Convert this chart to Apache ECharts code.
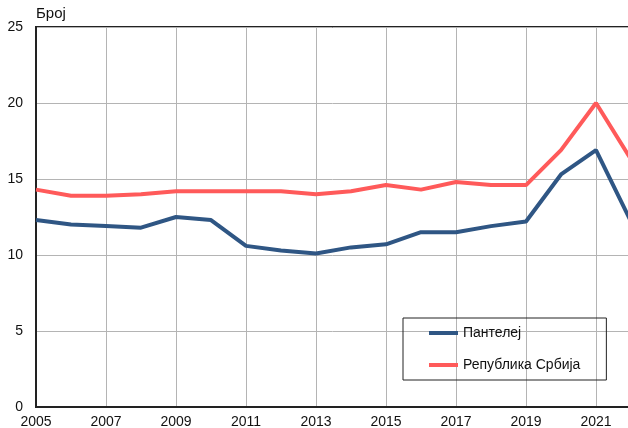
<!DOCTYPE html>
<html>
<head>
<meta charset="utf-8">
<script src="https://cdn.jsdelivr.net/npm/echarts@6/dist/echarts.min.js"></script>
<style>
  html, body { margin: 0; padding: 0; background: #fff; }
  #chart { width: 628px; height: 428px; }
</style>
</head>
<body>
<div id="chart"></div>
<script>
// podaci
var years = ['2005','2006','2007','2008','2009','2010','2011','2012','2013','2014','2015','2016','2017','2018','2019','2020','2021','2022'];
var pantelej = [12.3, 12.0, 11.9, 11.8, 12.5, 12.3, 10.6, 10.3, 10.1, 10.5, 10.7, 11.5, 11.5, 11.9, 12.2, 15.3, 16.9, 12.2];
var srbija = [14.3, 13.9, 13.9, 14.0, 14.2, 14.2, 14.2, 14.2, 14.0, 14.2, 14.6, 14.3, 14.8, 14.6, 14.6, 16.9, 20.0, 16.3];
var seriesNames = ['Пантелеј', 'Република Србија'];
var yTicks = [0, 5, 10, 15, 20, 25];

var font = 'Liberation Sans, Arial, sans-serif';
var chart = echarts.init(document.getElementById('chart'));

chart.setOption({
	animation: false,
	grid: {
		left: 36, right: -3, top: 27, bottom: 21,
		outerBoundsMode: 'none',
		show: true, borderColor: '#222', borderWidth: 2
	},
	legend: {
		orient: 'vertical',
		left: 403, top: 318,
		padding: [8, 26, 8, 26],
		itemGap: 18,
		itemWidth: 29, itemHeight: 4,
		icon: 'rect',
		borderColor: '#222', borderWidth: 1,
		textStyle: { fontFamily: font, fontSize: 14, color: '#111' },
		data: seriesNames
	},
	xAxis: {
		type: 'category',
		data: years,
		boundaryGap: false,
		axisLine: { lineStyle: { color: '#222', width: 2 } },
		axisTick: { show: false },
		axisLabel: { interval: 1, margin: 8, color: '#111', fontFamily: font, fontSize: 14 },
		splitLine: { show: true, interval: 1, lineStyle: { color: '#b4b4b4', width: 1 } }
	},
	yAxis: {
		type: 'value',
		min: yTicks[0], max: yTicks[yTicks.length - 1], interval: 5,
		name: 'Број',
		nameLocation: 'end',
		nameGap: 6,
		nameTextStyle: { align: 'left', fontFamily: font, fontSize: 15, color: '#111' },
		axisLine: { show: true, lineStyle: { color: '#222', width: 2 } },
		axisTick: { show: false },
		axisLabel: { margin: 13, color: '#111', fontFamily: font, fontSize: 14 },
		splitLine: { lineStyle: { color: '#b4b4b4', width: 1 } }
	},
	series: [
		{
			name: seriesNames[0], type: 'line', data: pantelej,
			symbol: 'none', color: '#2f5684',
			lineStyle: { width: 4, color: '#2f5684' }
		},
		{
			name: seriesNames[1], type: 'line', data: srbija,
			symbol: 'none', color: '#ff5a5a',
			lineStyle: { width: 4, color: '#ff5a5a' }
		}
	]
});
</script>
</body>
</html>
